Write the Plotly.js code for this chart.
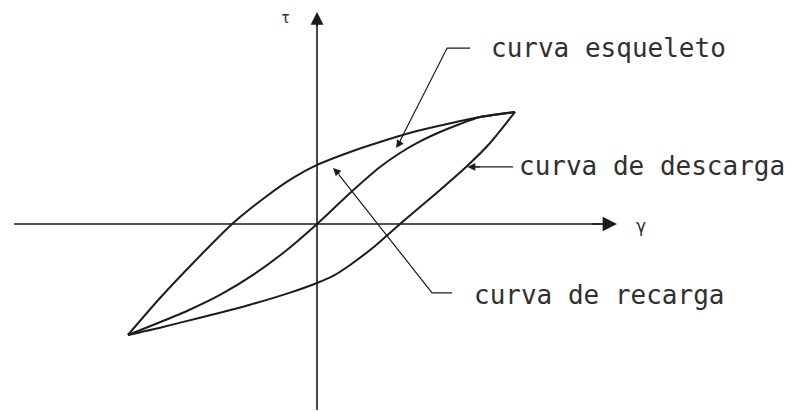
<!DOCTYPE html>
<html>
<head>
<meta charset="utf-8">
<script src="https://cdn.plot.ly/plotly-3.0.1.min.js"></script>
<style>
  html, body { margin: 0; padding: 0; background: #ffffff; }
  #chart { width: 801px; height: 412px; }
</style>
</head>
<body>
<div id="chart"></div>
<script>
// Hysteresis loop in the (γ, τ) plane, normalised to the loop tip (1, 1).

// Upper branch: lower-left tip -> upper-right tip, crossing τ > 0 at γ = 0
const upperGamma = [-0.955, -0.793, -0.616, -0.429, -0.253, -0.121, 0.000, 0.167, 0.318, 0.485, 0.657, 0.823, 1.000];
const upperTau   = [-0.991, -0.661, -0.330,  0.000,  0.250,  0.411, 0.527, 0.643, 0.732, 0.821, 0.893, 0.955, 1.000];

// Lower branch: lower-left tip -> upper-right tip, crossing τ < 0 at γ = 0
const lowerGamma = [-0.955, -0.793, -0.591, -0.338, -0.136,  0.000,  0.081,  0.167,  0.293, 0.419, 0.586, 0.758, 0.874, 1.000];
const lowerTau   = [-0.991, -0.926, -0.837, -0.721, -0.613, -0.527, -0.464, -0.366, -0.196, 0.000, 0.250, 0.518, 0.723, 1.000];

// Skeleton (backbone) curve through the origin
const skeletonGamma = [-0.955, -0.828, -0.657, -0.490, -0.323, -0.152, 0.000, 0.167, 0.318, 0.419, 0.520, 0.621, 0.722, 0.823, 1.000];
const skeletonTau   = [-0.991, -0.902, -0.777, -0.634, -0.455, -0.232, 0.000, 0.277, 0.509, 0.634, 0.737, 0.821, 0.893, 0.955, 1.000];

// Labels
const labelSkeleton  = 'curva esqueleto';
const labelUnloading = 'curva de descarga';
const labelReloading = 'curva de recarga';
const axisLabelX = 'γ';
const axisLabelY = 'τ';

const ink = '#1c1c1c';
const textInk = '#303030';
const mono = 'DejaVu Sans Mono, Liberation Mono, monospace';

function curve(x, y) {
  return {
    x: x, y: y, type: 'scatter', mode: 'lines',
    line: { color: ink, width: 2, shape: 'spline', smoothing: 0.6 },
    hoverinfo: 'skip', showlegend: false
  };
}

// Plain polyline (axis stems, leader lines)
function seg(x, y, w) {
  return {
    x: x, y: y, type: 'scatter', mode: 'lines',
    line: { color: ink, width: w },
    hoverinfo: 'skip', showlegend: false
  };
}

const data = [
  seg([-1.530, 1.440], [0, 0], 1.6),
  seg([0, 0], [-1.661, 1.80], 1.6),
  curve(upperGamma, upperTau),
  curve(lowerGamma, lowerTau),
  curve(skeletonGamma, skeletonTau),
  // leader lines
  seg([0.773, 0.657, 0.420], [1.571, 1.571, 0.745], 1.2),
  seg([0.990, 0.800], [0.509, 0.509], 1.2),
  seg([0.682, 0.581, 0.110], [-0.616, -0.616, 0.44], 1.2)
];

// Arrowheads drawn as short annotation arrows in data coordinates
function head(x, y, ax, ay, size, w) {
  return {
    x: x, y: y, ax: ax, ay: ay, xref: 'x', yref: 'y', axref: 'x', ayref: 'y',
    text: '', showarrow: true, arrowhead: 2, arrowsize: size, arrowwidth: w,
    arrowcolor: ink, standoff: 0
  };
}

function label(text, x, y, size) {
  return {
    x: x, y: y, xref: 'x', yref: 'y', text: text, showarrow: false,
    xanchor: 'left', yanchor: 'middle',
    font: { family: mono, size: size, color: textInk }
  };
}

const annotations = [
  head(1.515, 0, 1.380, 0, 1.8, 1.6),
  head(0, 1.893, 0, 1.75, 1.6, 1.6),
  head(0.399, 0.679, 0.430, 0.76, 1.3, 1.2),
  head(0.760, 0.509, 0.830, 0.509, 1.3, 1.2),
  head(0.081, 0.500, 0.120, 0.43, 1.3, 1.2),
  label(labelSkeleton, 0.870, 1.571, 26),
  label(labelUnloading, 1.010, 0.520, 26),
  label(labelReloading, 0.785, -0.634, 26),
  { x: -0.157, y: 1.839, xref: 'x', yref: 'y', text: axisLabelY, showarrow: false,
    font: { family: mono, size: 15, color: textInk } },
  { x: 1.636, y: -0.02, xref: 'x', yref: 'y', text: axisLabelX, showarrow: false,
    font: { family: mono, size: 17, color: textInk } }
];

const layout = {
  width: 801, height: 412,
  margin: { l: 0, r: 0, t: 0, b: 0 },
  paper_bgcolor: '#ffffff', plot_bgcolor: '#ffffff',
  xaxis: { range: [-1.601, 2.444], visible: false, fixedrange: true },
  yaxis: { range: [-1.679, 2.0], visible: false, fixedrange: true },
  annotations: annotations,
  showlegend: false
};

Plotly.newPlot('chart', data, layout, { staticPlot: true, displayModeBar: false });
</script>
</body>
</html>
